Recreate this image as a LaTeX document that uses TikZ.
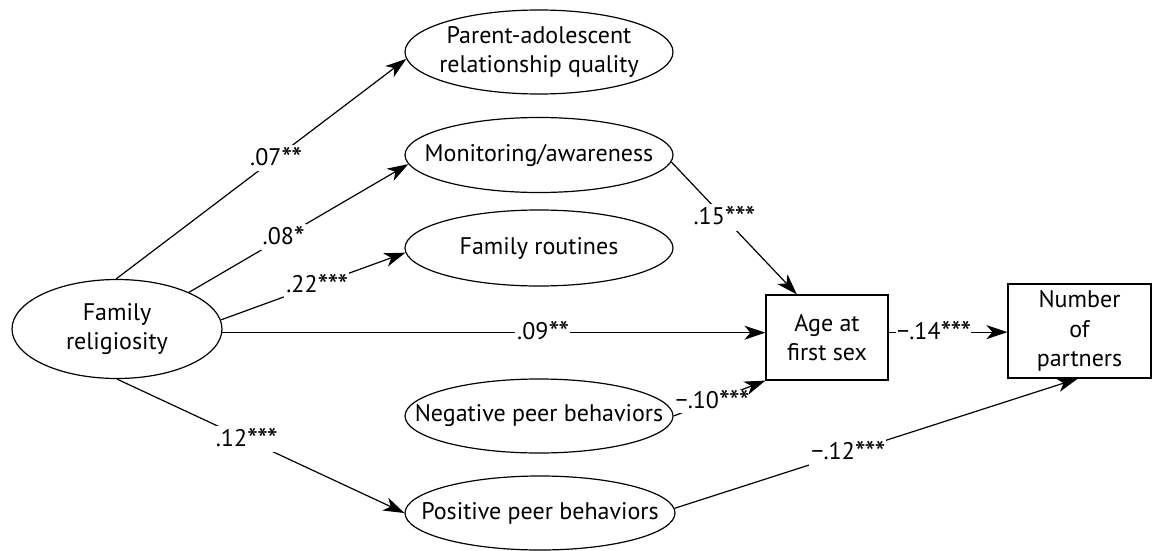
\documentclass[tikz,border=0pt]{standalone}
\usepackage{fontspec}
\setmainfont{PT Sans}
\usetikzlibrary{shapes.geometric,arrows.meta}
\newcommand\sgstar{\raisebox{-4pt}{\fontsize{31}{31}\selectfont *}\kern-1pt}
\begin{document}
\begin{tikzpicture}[x=1pt,y=-1pt,
  ell/.style={draw,ellipse,line width=1.2pt,inner sep=0pt},
  boxnode/.style={draw,rectangle,line width=1.2pt,inner sep=0pt},
  txt/.style={align=center,font=\fontsize{24}{29.5}\selectfont,inner sep=0pt},
  arr/.style={line width=1.2pt,-{Stealth[length=21pt,width=14pt,inset=6pt]}},
  lbl/.style={fill=white,inner sep=2pt,font=\fontsize{24}{28}\selectfont}]
\useasboundingbox (0,0) rectangle (1153,551);
% nodes
\node[ell,minimum width=210pt,minimum height=99pt] (fam) at (117,329) {};
\node[txt] (famt) at (fam) {Family\\religiosity};
\node[ell,minimum width=268pt,minimum height=84pt] (par) at (539,52) {};
\node[txt] (part) at (par) {Parent-adolescent\\relationship quality};
\node[ell,minimum width=268pt,minimum height=75pt] (mon) at (539,155) {};
\node[txt] (mont) at (mon) {Monitoring/awareness};
\node[ell,minimum width=268pt,minimum height=76pt] (rou) at (539,248) {};
\node[txt] (rout) at (rou) {Family routines};
\node[ell,minimum width=268pt,minimum height=74pt] (neg) at (539,416) {};
\node[txt] (negt) at (neg) {Negative peer behaviors};
\node[ell,minimum width=270pt,minimum height=74pt] (pos) at (540,513) {};
\node[txt] (post) at (pos) {Positive peer behaviors};
\node[boxnode,minimum width=122pt,minimum height=85pt] (age) at (827,337.5) {};
\node[txt] (aget) at (age) {Age at\\first sex};
\node[boxnode,minimum width=143pt,minimum height=94pt] (num) at (1079.5,331) {};
\node[txt] (numt) at (num) {Number\\of\\partners};
% connectors
\draw[arr] (fam.91) -- node[lbl,pos=0.55] {.07\sgstar\sgstar} (par.183);
\draw[arr] (fam.27) -- node[lbl,pos=0.43] {.08\sgstar} (mon.184);
\draw[arr] (fam.5) -- node[lbl,pos=0.52] {.22\sgstar\sgstar\sgstar} (rou.182);
\draw[arr] (fam.-2) -- node[lbl,pos=0.59] {.09\sgstar\sgstar} (fam.-2 -| age.west);
\draw[arr] (fam.south) -- node[lbl,pos=0.45] {.12\sgstar\sgstar\sgstar} (pos.west);
\draw[arr] (mon.357) -- node[lbl,pos=0.42] {.15\sgstar\sgstar\sgstar} (age.125);
\draw[arr] (neg.east) -- node[lbl,pos=0.42,inner sep=0.5pt] {−.10\sgstar\sgstar\sgstar} (age.south west);
\draw[arr] (pos.2) -- node[lbl,pos=0.43] {−.12\sgstar\sgstar\sgstar} (num.268);
\draw[arr] (age.5) -- node[lbl,pos=0.38,inner sep=1pt] {−.14\sgstar\sgstar\sgstar} (age.5 -| num.west);
\end{tikzpicture}
\end{document}
